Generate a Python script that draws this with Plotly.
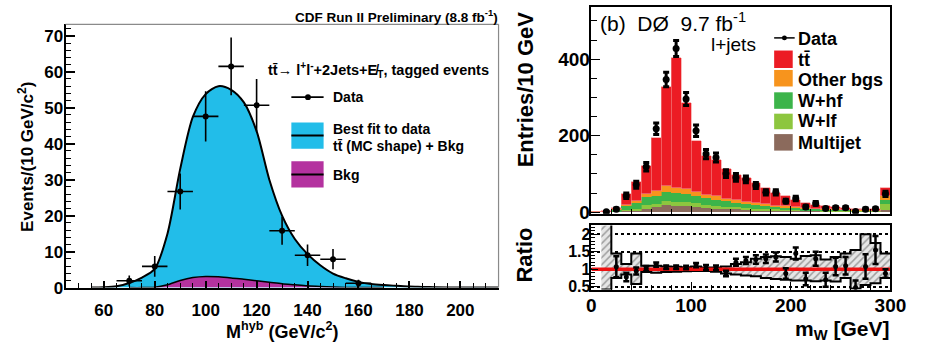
import plotly.graph_objects as go

W, H = 926, 353

# ---------------- Left panel (CDF) ----------------
cdf_x = [70, 80, 90, 100, 110, 120, 130, 140, 150, 160]
cdf_y = [1.9, 5.9, 26.7, 47.6, 61.5, 50.7, 15.8, 9.0, 7.9, 1.2]
cdf_yerr = [1.5, 2.9, 5.0, 7.0, 8.0, 7.3, 3.9, 3.0, 2.8, 1.0]
cdf_xerr = [5, 5, 5, 5, 5, 5, 5, 5, 5, 5]

fit_x = [55, 60, 65, 70, 75, 80, 85, 90, 95, 100, 105, 110, 115, 120, 125, 130,
         135, 140, 145, 150, 155, 160, 165, 170, 175, 180, 185, 190, 200, 215]
fit_y = [0, 0.1, 0.4, 1.3, 2.8, 5.2, 15, 33, 47.5, 53.8, 56, 55, 51.5, 43.5, 30,
         20, 13.5, 9.3, 6.2, 3.9, 2.6, 1.6, 1.0, 0.7, 0.5, 0.3, 0.2, 0.1, 0, 0]

bkg_x = [70, 75, 80, 85, 90, 95, 100, 105, 110, 115, 120, 125, 130, 135, 140,
         145, 150, 155, 160, 170]
bkg_y = [0, 0, 0.1, 0.8, 2.0, 2.8, 3.1, 3.0, 2.7, 2.3, 1.9, 1.5, 1.1, 0.8, 0.5,
         0.3, 0.15, 0.05, 0, 0]

# ---------------- Right panel (D0) ----------------
bin_edges = [0, 10, 20, 30, 40, 50, 60, 70, 80, 90, 100, 110, 120, 130, 140, 150,
             160, 170, 180, 190, 200, 210, 220, 230, 240, 250, 260, 270, 280, 290, 300]
bin_centers = [5, 15, 25, 35, 45, 55, 65, 75, 85, 95, 105, 115, 125, 135, 145, 155,
               165, 175, 185, 195, 205, 215, 225, 235, 245, 255, 265, 275, 285, 295]

multijet = [0, 0.5, 1, 3, 5, 10, 14, 20, 18, 16, 14, 12, 10, 8, 8, 6, 5, 5, 4, 4,
            3, 3, 3, 2, 2, 2, 2, 2, 2, 7]
w_lf = [0, 0.5, 1, 4, 5, 9, 8, 11, 9, 10, 10, 8, 8, 6, 5, 5, 5, 4, 4, 3,
        3, 2, 2, 2, 2, 1, 1, 1, 1, 15]
w_hf = [0, 0.5, 4, 9, 15, 21, 22, 23, 23, 22, 19, 17, 15, 15, 12, 11, 9, 8, 6, 5,
        5, 4, 3, 3, 2, 3, 2, 2, 1, 11]
other_bgs = [0, 0.5, 2, 4, 6, 8, 12, 15, 13, 13, 11, 9, 9, 7, 7, 6, 5, 4, 4, 4,
             3, 3, 2, 2, 2, 1, 1, 1, 1, 9]
ttbar = [1, 1, 4, 27, 49, 74, 138, 259, 341, 224, 134, 102, 96, 78, 65, 62, 52, 42,
         32, 26, 19, 13, 10, 7, 6, 5, 4, 4, 3, 21]

d0_data = [None, 1, 8, 43, 72, 119, 218, 347, 428, 296, 213, 152, 143, 101, 91, 86,
           70, 52, 52, 29, 36, 14, 23, 10, 12, 12, 2, 8, 9, 48]
d0_err = [None, 1, 3, 7, 9, 11, 15, 19, 21, 17, 15, 12, 12, 10, 10, 9, 8, 7, 7, 5,
          6, 4, 5, 3, 3, 3, 1.5, 3, 3, 7]

ratio_val = [None, None, 1.07, 0.78, 0.95, 1.02, 1.13, 1.06, 1.06, 1.05, 1.12, 1.05,
             1.04, 0.88, 1.2, 1.25, 1.28, 1.3, 1.35, 0.88, 1.45, 0.72, 1.3, 0.7,
             1.08, 1.1, 0.48, 1.08, 1.55, 0.88]
ratio_err = [None, None, 0.3, 0.12, 0.1, 0.07, 0.06, 0.05, 0.05, 0.05, 0.06, 0.07,
             0.07, 0.08, 0.1, 0.1, 0.12, 0.12, 0.13, 0.15, 0.17, 0.18, 0.2, 0.2,
             0.25, 0.25, 0.2, 0.35, 0.4, 0.12]

band_low = [None, 0.42, 0.75, 0.85, 0.58, 0.92, 0.9, 0.92, 0.93, 0.94, 0.95, 0.95,
            0.93, 0.88, 0.85, 0.82, 0.8, 0.75, 0.72, 0.7, 0.68, 0.68, 0.66, 0.68,
            0.65, 0.75, 0.45, 0.55, 0.6, 0.75]
band_high = [None, 2.3, 1.45, 1.15, 1.45, 1.1, 1.1, 1.08, 1.07, 1.06, 1.08, 1.05,
             1.05, 1.08, 1.15, 1.2, 1.3, 1.35, 1.37, 1.35, 1.3, 1.38, 1.4, 1.28,
             1.35, 1.45, 1.55, 2.0, 1.75, 1.45]

C_TT = "#ec1c24"
C_OTH = "#f7941d"
C_WHF = "#3cb44a"
C_WLF = "#8dc63f"
C_MJ = "#8b6a5c"
C_CYAN = "#22bde9"
C_MAG = "#b4329f"

FONT = "Liberation Sans"


def px(x):
    return x / W


def py(y):
    return 1 - y / H


fig = go.Figure()

# Left panel traces
fig.add_trace(go.Scatter(x=fit_x, y=fit_y, mode="lines", line=dict(color="black", width=2, shape="spline", smoothing=0.8),
                         fill="tozeroy", fillcolor=C_CYAN, xaxis="x", yaxis="y", hoverinfo="skip"))
fig.add_trace(go.Scatter(x=bkg_x, y=bkg_y, mode="lines", line=dict(color="black", width=1.5, shape="spline", smoothing=0.8),
                         fill="tozeroy", fillcolor=C_MAG, xaxis="x", yaxis="y", hoverinfo="skip"))
fig.add_trace(go.Scatter(x=cdf_x, y=cdf_y, mode="markers", marker=dict(color="black", size=6),
                         error_y=dict(type="data", array=cdf_yerr, color="black", thickness=1.6, width=0),
                         error_x=dict(type="data", array=cdf_xerr, color="black", thickness=1.6, width=0),
                         xaxis="x", yaxis="y"))

# Right main: stacked histogram
for vals, col, lc in [(multijet, C_MJ, C_MJ), (w_lf, C_WLF, C_WLF), (w_hf, C_WHF, C_WHF),
                      (other_bgs, C_OTH, C_OTH), (ttbar, C_TT, "#f48a8a")]:
    fig.add_trace(go.Bar(x=bin_centers, y=vals, width=10, marker=dict(color=col, line=dict(color=lc, width=0.6)),
                         xaxis="x2", yaxis="y2", hoverinfo="skip"))

fig.add_trace(go.Scatter(x=bin_centers, y=d0_data, mode="markers", marker=dict(color="black", size=7),
                         error_y=dict(type="data", array=d0_err, color="black", thickness=3, width=3),
                         xaxis="x2", yaxis="y2"))

# Ratio panel: hatched band
band_x = bin_edges[1:]
lo_y = band_low[1:] + [band_low[-1]]
hi_y = band_high[1:] + [band_high[-1]]
fig.add_trace(go.Scatter(x=band_x, y=lo_y, mode="lines", line=dict(color="black", width=2, shape="hv"),
                         xaxis="x3", yaxis="y3", hoverinfo="skip"))
fig.add_trace(go.Scatter(x=band_x, y=hi_y, mode="lines", line=dict(color="black", width=2, shape="hv"),
                         fill="tonexty", fillcolor="rgba(220,220,220,1)",
                         fillpattern=dict(shape="/", fgcolor="#555555", bgcolor="#e6e6e6", size=5, solidity=0.3),
                         xaxis="x3", yaxis="y3", hoverinfo="skip"))
fig.add_trace(go.Scatter(x=[bin_edges[0], bin_edges[-1]], y=[1, 1], mode="lines",
                         line=dict(color="#ee1111", width=3.5), xaxis="x3", yaxis="y3", hoverinfo="skip"))
fig.add_trace(go.Scatter(x=bin_centers, y=ratio_val, mode="markers", marker=dict(color="black", size=5),
                         error_y=dict(type="data", array=ratio_err, color="black", thickness=2.5, width=3),
                         xaxis="x3", yaxis="y3"))

tick_l = dict(family=FONT, size=17, color="black", weight="bold")
tick_r = dict(family=FONT, size=19, color="black", weight="bold")

fig.update_layout(
    width=W, height=H, margin=dict(l=0, r=0, t=0, b=0),
    paper_bgcolor="white", plot_bgcolor="white", showlegend=False,
    barmode="stack", bargap=0,
    xaxis=dict(domain=[px(62), px(505)], range=[45, 215], tick0=0, dtick=20, ticks="inside", ticklen=7,
               tickwidth=1.5, tickcolor="black", showline=True, linecolor="black", linewidth=2,
               showgrid=False, zeroline=False, tickfont=tick_l, ticklabelstandoff=6, anchor="y",
               minor=dict(dtick=5, ticks="inside", ticklen=5, tickcolor="black", tickwidth=1.2)),
    yaxis=dict(domain=[py(296), py(25)], range=[0, 73.2], tick0=0, dtick=10, ticks="inside", ticklen=9,
               tickwidth=1.5, tickcolor="black", showline=True, linecolor="black", linewidth=2,
               showgrid=False, zeroline=False, tickfont=tick_l, ticklabelstandoff=-3, anchor="x",
               minor=dict(dtick=2, ticks="inside", ticklen=5, tickcolor="black", tickwidth=1.2)),
    xaxis2=dict(domain=[px(600), px(906)], range=[0, 300], dtick=100, ticks="inside", ticklen=8,
                tickcolor="black", showline=True, linecolor="black", linewidth=1.5, mirror=True,
                showticklabels=False, showgrid=False, zeroline=False, anchor="y2",
                minor=dict(dtick=20, ticks="inside", ticklen=5, tickcolor="black")),
    yaxis2=dict(domain=[py(220), py(7)], range=[-4, 537], dtick=200, ticks="inside", ticklen=9,
                tickcolor="black", showline=True, linecolor="black", linewidth=1.5, mirror=True,
                showgrid=False, zeroline=False, tickfont=tick_r, ticklabelstandoff=-4, anchor="x2",
                minor=dict(dtick=50, ticks="inside", ticklen=6, tickcolor="black")),
    xaxis3=dict(domain=[px(600), px(906)], range=[0, 300], dtick=100, ticks="inside", ticklen=8,
                tickcolor="black", showline=True, linecolor="black", linewidth=1.5, mirror=True,
                showgrid=False, zeroline=False, tickfont=tick_r, anchor="y3", ticklabelstandoff=-2,
                minor=dict(dtick=20, ticks="inside", ticklen=5, tickcolor="black")),
    yaxis3=dict(domain=[py(298), py(232)], range=[0.42, 2.25], tickvals=[0.5, 1, 1.5, 2],
                ticktext=["0.5", "1", "1.5", "2"], ticks="inside", ticklen=7, tickcolor="black",
                showline=True, linecolor="black", linewidth=1.5, mirror=True, anchor="x3",
                showgrid=True, gridcolor="black", gridwidth=1.5, griddash="dot", zeroline=False,
                ticklabelstandoff=-4,
                tickfont=dict(family=FONT, size=16, color="black", weight="bold"),
                minor=dict(dtick=0.1, ticks="inside", ticklen=4, tickcolor="black", showgrid=False)),
)

shapes = []
# left frame (top, right) thin grey
shapes.append(dict(type="line", xref="paper", yref="paper", x0=px(62), x1=px(505), y0=py(25), y1=py(25),
                   line=dict(color="#8a8a8a", width=1.2)))
shapes.append(dict(type="line", xref="paper", yref="paper", x0=px(505), x1=px(505), y0=py(25), y1=py(296),
                   line=dict(color="#8a8a8a", width=1.2)))
# left legend
shapes.append(dict(type="line", xref="paper", yref="paper", x0=px(293), x1=px(326), y0=py(100), y1=py(100),
                   line=dict(color="black", width=1.8)))
shapes.append(dict(type="circle", xref="paper", yref="paper", x0=px(307), x1=px(313), y0=py(103), y1=py(97),
                   fillcolor="black", line=dict(color="black", width=0)))
shapes.append(dict(type="rect", xref="paper", yref="paper", x0=px(293), x1=px(326), y0=py(153), y1=py(126),
                   fillcolor=C_CYAN, line=dict(width=0)))
shapes.append(dict(type="line", xref="paper", yref="paper", x0=px(293), x1=px(326), y0=py(139.5), y1=py(139.5),
                   line=dict(color="black", width=2)))
shapes.append(dict(type="rect", xref="paper", yref="paper", x0=px(293), x1=px(326), y0=py(193), y1=py(166),
                   fillcolor=C_MAG, line=dict(width=0)))
shapes.append(dict(type="line", xref="paper", yref="paper", x0=px(293), x1=px(326), y0=py(179.5), y1=py(179.5),
                   line=dict(color="black", width=2)))
# right legend
shapes.append(dict(type="line", xref="paper", yref="paper", x0=px(787), x1=px(808), y0=py(39), y1=py(39),
                   line=dict(color="black", width=1.5)))
shapes.append(dict(type="circle", xref="paper", yref="paper", x0=px(795), x1=px(800), y0=py(41.5), y1=py(36.5),
                   fillcolor="black", line=dict(width=0)))
for (y0, y1, col) in [(52, 70, C_TT), (72, 89, C_OTH), (95, 112, C_WHF), (117, 133, C_WLF), (138, 155, C_MJ)]:
    shapes.append(dict(type="rect", xref="paper", yref="paper", x0=px(787), x1=px(806), y0=py(y1), y1=py(y0),
                       fillcolor=col, line=dict(width=0)))
fig.update_layout(shapes=shapes)

ann = []


def add_text(text, x, y, size, xanchor="left", bold=True, angle=0):
    ann.append(dict(text=text, x=px(x), y=py(y), xref="paper", yref="paper", xanchor=xanchor, yanchor="middle",
                    showarrow=False, textangle=angle, borderpad=0,
                    font=dict(family=FONT, size=size, color="black", weight="bold" if bold else "normal")))


add_text("CDF Run II Preliminary (8.8 fb<sup>-1</sup>)", 505, 16, 13.5, xanchor="right")
add_text("tt\u0304\u2192 l<sup>+</sup>l<sup>-</sup>+2Jets+E\u0338<sub>T</sub>, tagged events", 268, 72, 14.5)
add_text("Data", 335, 100, 14)
add_text("Best fit to data", 335, 133, 14)
add_text("tt\u0304 (MC shape) + Bkg", 335, 150, 14)
add_text("Bkg", 335, 180, 14)
add_text("Events/(10 GeV/c<sup>2</sup>)", 22, 162, 17, xanchor="center", angle=-90)
add_text("M<sup>hyb</sup> (GeV/c<sup>2</sup>)", 283, 340, 18, xanchor="center")

add_text("(b)  D\u00d8  9.7 fb<sup>-1</sup>", 608, 23, 21, bold=False)
add_text("l+jets", 769, 46, 19, xanchor="right", bold=False)
add_text("Data", 810, 40, 18)
add_text("tt\u0304", 810, 62, 18)
add_text("Other bgs", 810, 82, 18)
add_text("W+hf", 810, 104, 18)
add_text("W+lf", 810, 125, 18)
add_text("Multijet", 810, 147, 18)
add_text("Entries/10 GeV", 532, 92, 22, xanchor="center", angle=-90)
add_text("Ratio", 532, 262, 22, xanchor="center", angle=-90)
add_text("m<sub>W</sub> [GeV]", 906, 340, 21, xanchor="right")

fig.update_layout(annotations=ann)

fig.write_html("out.html")
